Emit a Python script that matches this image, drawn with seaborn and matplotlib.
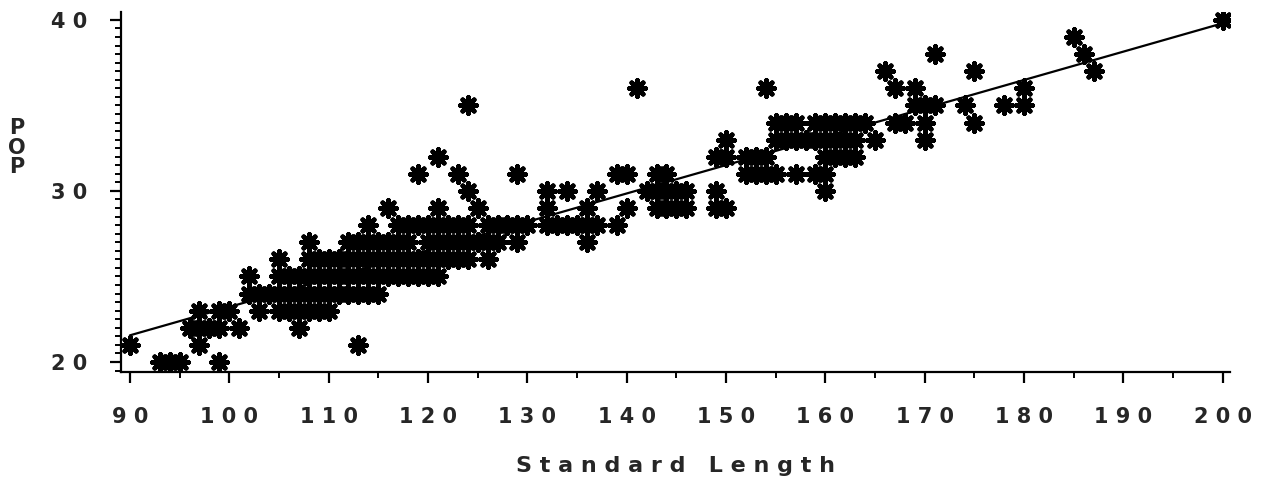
import numpy as np
import pandas as pd
import matplotlib
matplotlib.use("Agg")
import matplotlib.pyplot as plt
from matplotlib.ticker import MultipleLocator
import seaborn as sns

# Standard length of each fish, grouped by its POP count
pop_20 = [93, 94, 95, 99]
pop_21 = [90, 97, 113]
pop_22 = [96, 97, 98, 99, 101, 107]
pop_23 = [97, 99, 100, 103, 105, 106, 107, 108, 109, 110]
pop_24 = [102, 103, 104, 105, 106, 107, 108, 109, 110, 111, 112, 113, 114, 115]
pop_25 = [102, 105, 106, 107, 108, 109, 110, 111, 112, 113, 114, 115, 116, 117,
          118, 119, 120, 121]
pop_26 = [105, 108, 109, 110, 111, 112, 113, 114, 115, 116, 117, 118, 119, 120,
          121, 122, 123, 124, 126]
pop_27 = [108, 112, 113, 114, 115, 116, 117, 118, 120, 121, 122, 123, 124, 125,
          126, 127, 129, 136]
pop_28 = [114, 117, 118, 119, 120, 121, 122, 123, 124, 126, 127, 128, 129, 130,
          132, 133, 134, 135, 136, 137, 139]
pop_29 = [116, 121, 125, 132, 136, 140, 143, 144, 145, 146, 149, 150]
pop_30 = [124, 132, 134, 137, 142, 143, 144, 145, 146, 149, 160]
pop_31 = [119, 123, 129, 139, 140, 143, 144, 152, 153, 154, 155, 157, 159, 160]
pop_32 = [121, 149, 150, 152, 153, 154, 160, 161, 162, 163]
pop_33 = [150, 155, 156, 157, 158, 159, 160, 161, 162, 163, 165, 170]
pop_34 = [155, 156, 157, 159, 160, 161, 162, 163, 164, 167, 168, 170, 175]
pop_35 = [124, 169, 170, 171, 174, 178, 180]
pop_36 = [141, 154, 167, 169, 180]
pop_37 = [166, 175, 187]
pop_38 = [171, 186]
pop_39 = [185]
pop_40 = [200]

groups = {20: pop_20, 21: pop_21, 22: pop_22, 23: pop_23, 24: pop_24,
          25: pop_25, 26: pop_26, 27: pop_27, 28: pop_28, 29: pop_29,
          30: pop_30, 31: pop_31, 32: pop_32, 33: pop_33, 34: pop_34,
          35: pop_35, 36: pop_36, 37: pop_37, 38: pop_38, 39: pop_39,
          40: pop_40}

df = pd.DataFrame([(length, pop) for pop, lengths in groups.items()
                   for length in lengths], columns=["length", "pop"])

x_ticks = list(range(90, 201, 10))
y_ticks = [20, 30, 40]

sns.set_style("ticks")
plt.rcParams["font.family"] = ["DejaVu Sans"]
plt.rcParams["font.weight"] = "bold"

fig = plt.figure(figsize=(12.76, 4.92), dpi=100)
ax = fig.add_axes([0.0948, 0.244, 0.869, 0.732])

sns.scatterplot(data=df, x="length", y="pop", marker=(8, 2, 0), s=135,
                color="black", linewidth=3.4, ax=ax, zorder=3)
sns.regplot(data=df, x="length", y="pop", scatter=False, ci=None,
            color="black", line_kws=dict(lw=1.6), ax=ax)

ax.set_xlim(89.1, 200.7)
ax.set_ylim(19.42, 40.47)

ax.set_xticks(x_ticks)
ax.set_xticklabels([" ".join(str(v)) for v in x_ticks])
ax.xaxis.set_minor_locator(MultipleLocator(5))
ax.set_yticks(y_ticks)
ax.set_yticklabels([" ".join(str(v)) for v in y_ticks])
ax.yaxis.set_minor_locator(MultipleLocator(0.5))

ax.tick_params(axis="both", which="major", direction="out", length=8,
               width=1.6, color="black", labelsize=15)
ax.tick_params(axis="x", which="major", pad=17)
ax.tick_params(axis="y", which="major", pad=16)
ax.tick_params(axis="both", which="minor", direction="out", length=4.5,
               width=1.4, color="black")

for side in ("top", "right"):
    ax.spines[side].set_visible(False)
for side in ("left", "bottom"):
    ax.spines[side].set_linewidth(1.6)
    ax.spines[side].set_color("black")

ax.set_xlabel("S t a n d a r d   L e n g t h", fontsize=16,
              fontweight="bold", labelpad=21)
ax.set_ylabel("")
fig.text(0.013, 0.70, "P\nO\nP", fontsize=15, fontweight="bold",
         ha="center", va="center", linespacing=0.95)

fig.savefig("out.png", dpi=100, facecolor="white")
